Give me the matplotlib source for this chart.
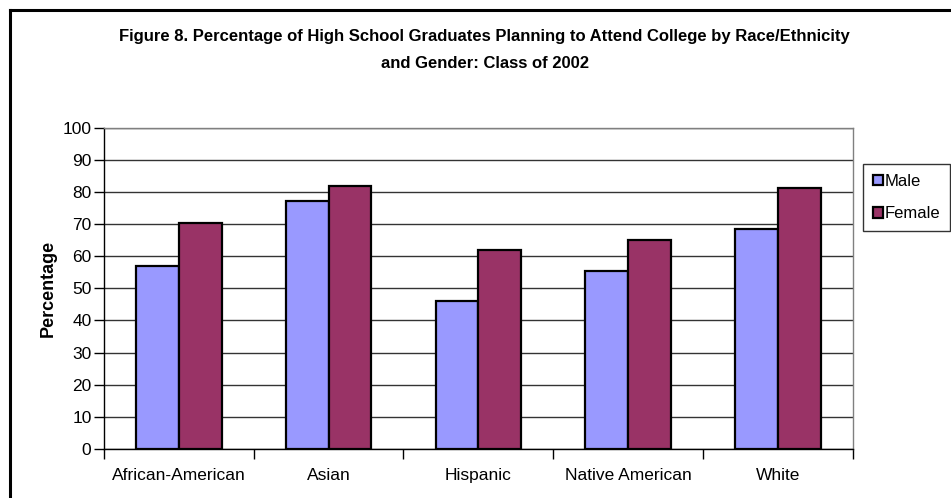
import matplotlib
matplotlib.use("Agg")
import matplotlib.pyplot as plt
import numpy as np
from matplotlib.lines import Line2D

categories = ["African-American", "Asian", "Hispanic", "Native American", "White"]
male = [57.0, 77.3, 46.2, 55.3, 68.6]
female = [70.3, 82.0, 62.0, 64.9, 81.3]
series_names = ["Male", "Female"]
yticks = list(range(0, 101, 10))
title_lines = ["Figure 8. Percentage of High School Graduates Planning to Attend College by Race/Ethnicity",
               "and Gender: Class of 2002"]

base = "Liberation Sans"

W, H = 951, 498
fig = plt.figure(figsize=(W / 100, H / 100), dpi=100)
fig.patch.set_facecolor("white")

ax = fig.add_axes([104 / W, 1 - 449 / H, (852.7 - 104) / W, (449 - 127.7) / H])

x = np.arange(len(categories))
bw = 1 / 3.5
ax.bar(x - bw / 2, male, width=bw, color="#9999FF", edgecolor="black", linewidth=1.6,
       label=series_names[0], zorder=3)
ax.bar(x + bw / 2, female, width=bw, color="#993366", edgecolor="black", linewidth=1.6,
       label=series_names[1], zorder=3)

ax.set_xlim(-0.5, len(categories) - 0.5)
ax.set_ylim(0, 100)
ax.set_yticks(yticks)
ax.set_yticklabels([str(t) for t in yticks], fontsize=12.5, family=base)
ax.yaxis.grid(True, color="#333333", linewidth=1.0, zorder=0)
ax.set_axisbelow(True)

ax.set_xticks(np.arange(len(categories) + 1) - 0.5, minor=False)
ax.set_xticklabels([])
ax.set_xticks(x, minor=True)
ax.set_xticklabels(categories, minor=True, fontsize=12.5, family=base)
ax.tick_params(axis="x", which="minor", length=0, pad=14)
ax.tick_params(axis="x", which="major", length=7, width=1, color="black", direction="out")
ax.tick_params(axis="y", length=7, width=1, color="black", direction="out", pad=2)

for s in ["left", "bottom"]:
    ax.spines[s].set_color("black")
    ax.spines[s].set_linewidth(1.0)
for s in ["top", "right"]:
    ax.spines[s].set_color("#808080")
    ax.spines[s].set_linewidth(1.0)

ax.set_ylabel("Percentage", fontsize=13, fontweight="bold", family=base, labelpad=4)

fig.text(484.5 / W, 1 - 36 / H, title_lines[0], ha="center", va="center", fontsize=12,
         fontweight="bold", family=base)
fig.text(484.5 / W, 1 - 63 / H, title_lines[1], ha="center", va="center", fontsize=12,
         fontweight="bold", family=base)

leg = ax.legend(loc="upper left", bbox_to_anchor=(862.7 / W, 1 - 164 / H),
                bbox_transform=fig.transFigure, borderaxespad=0,
                prop={"family": base, "size": 12},
                frameon=True, fancybox=False, edgecolor="black", handlelength=0.6,
                handleheight=0.6, handletextpad=0.1, labelspacing=1.05,
                borderpad=0.6)
leg.get_frame().set_linewidth(1.0)
for p in leg.get_patches():
    p.set_linewidth(1.6)

# outer chart border (top and left visible)
fig.add_artist(Line2D([9.5 / W, 1.0], [1 - 10.5 / H, 1 - 10.5 / H], color="black",
                      linewidth=2.2, transform=fig.transFigure))
fig.add_artist(Line2D([9.5 / W, 9.5 / W], [0.0, 1 - 10.5 / H], color="black",
                      linewidth=2.2, transform=fig.transFigure))

fig.savefig("out.png", dpi=100)
